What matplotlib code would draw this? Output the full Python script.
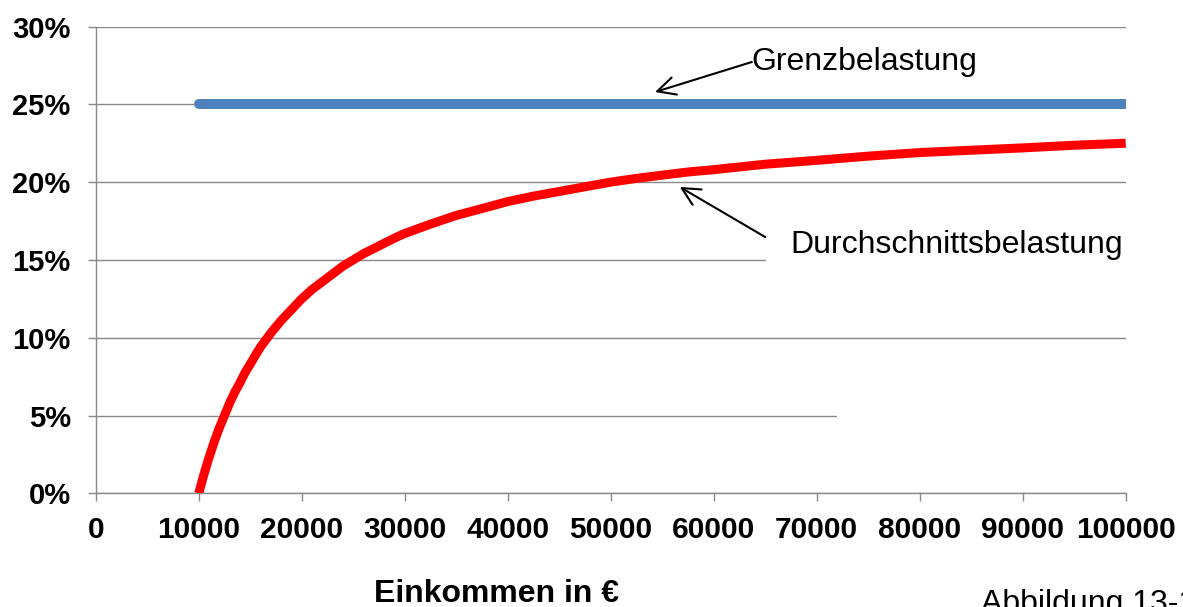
# Grenz- und Durchschnittsbelastung
import numpy as np
import matplotlib.pyplot as plt
from matplotlib.patches import Rectangle
from matplotlib.ticker import FuncFormatter

plt.rcParams['font.family'] = ['Liberation Sans', 'DejaVu Sans']

# Daten
grenz_x = [10000, 100000]
grenz_y = [0.25, 0.25]

durch_x = [10000, 10500, 11000, 11500, 12000, 12500, 13000, 13500, 14000, 14500,
           15000, 15500, 16000, 17000, 18000, 19000, 20000, 21000, 22000, 23000,
           24000, 25000, 26000, 27500, 29000, 30000, 32500, 35000, 37500, 40000,
           42500, 45000, 47500, 50000, 52500, 55000, 57500, 60000, 65000, 70000,
           75000, 80000, 85000, 90000, 95000, 100000]
durch_y = [0.0, 0.012, 0.023, 0.033, 0.042, 0.050, 0.058, 0.065, 0.071, 0.0776,
           0.083, 0.0887, 0.094, 0.103, 0.111, 0.118, 0.125, 0.131, 0.136, 0.141,
           0.146, 0.150, 0.154, 0.159, 0.164, 0.167, 0.173, 0.1786, 0.183, 0.1875,
           0.191, 0.194, 0.197, 0.200, 0.2024, 0.2045, 0.2065, 0.208, 0.2115, 0.214,
           0.2167, 0.219, 0.2205, 0.222, 0.2237, 0.225]

x_ticks = [0, 10000, 20000, 30000, 40000, 50000, 60000, 70000, 80000, 90000, 100000]
y_ticks = [0, 0.05, 0.10, 0.15, 0.20, 0.25, 0.30]

fig = plt.figure(figsize=(11.83, 6.07), dpi=100)
ax = fig.add_axes([0.0809, 0.1873, 0.8707, 0.769])

grau = '#898989'

ax.plot(grenz_x, grenz_y, color='#4F81BD', lw=7.2, solid_capstyle='round', zorder=3)
ax.plot(durch_x, durch_y, color='#FF0000', lw=6.5, solid_capstyle='butt',
        solid_joinstyle='round', zorder=3)

ax.set_xlim(0, 100000)
ax.set_ylim(0, 0.30)
ax.set_xticks(x_ticks)
ax.set_yticks(y_ticks)
ax.yaxis.set_major_formatter(FuncFormatter(lambda v, p: f'{v*100:.0f}%'))

ax.set_axisbelow(True)
ax.grid(axis='y', color=grau, lw=1.0)
for s in ['top', 'right']:
    ax.spines[s].set_visible(False)
for s in ['left', 'bottom']:
    ax.spines[s].set_color(grau)
    ax.spines[s].set_linewidth(1.0)

ax.tick_params(axis='both', direction='out', length=6, width=1.0, color=grau)
ax.tick_params(axis='y', pad=12, labelsize=21)
ax.tick_params(axis='x', pad=10, labelsize=21.5)
for lab in ax.get_xticklabels() + ax.get_yticklabels():
    lab.set_fontweight('bold')

# weisse Flaeche ueber der 5%-Linie
ax.add_patch(Rectangle((72000, 0.03), 30000, 0.04, facecolor='white',
                       edgecolor='none', zorder=1))

# Beschriftungen mit Pfeilen
ax.text(63700, 0.2772, 'Grenzbelastung', fontsize=23, va='center', ha='left',
        zorder=5)
ax.annotate('', xy=(54300, 0.2579), xytext=(63700, 0.2772),
            arrowprops=dict(arrowstyle='->', lw=1.5, color='black',
                            mutation_scale=32, shrinkA=0, shrinkB=0), zorder=6)

ax.text(67400, 0.1595, 'Durchschnittsbelastung', fontsize=23, va='center',
        ha='left', zorder=4,
        bbox=dict(boxstyle='square,pad=0.75', facecolor='white', edgecolor='none'))
ax.annotate('', xy=(56700, 0.1969), xytext=(65000, 0.1647),
            arrowprops=dict(arrowstyle='->', lw=1.5, color='black',
                            mutation_scale=32, shrinkA=0, shrinkB=0), zorder=6)

fig.text(497 / 1183, 1 - 579 / 607, 'Einkommen in €', fontsize=23,
         fontweight='bold', ha='center', va='top')
fig.text(981 / 1183, 1 - 589 / 607, 'Abbildung 13-1', fontsize=23,
         ha='left', va='top')

fig.savefig('out.png', dpi=100)
